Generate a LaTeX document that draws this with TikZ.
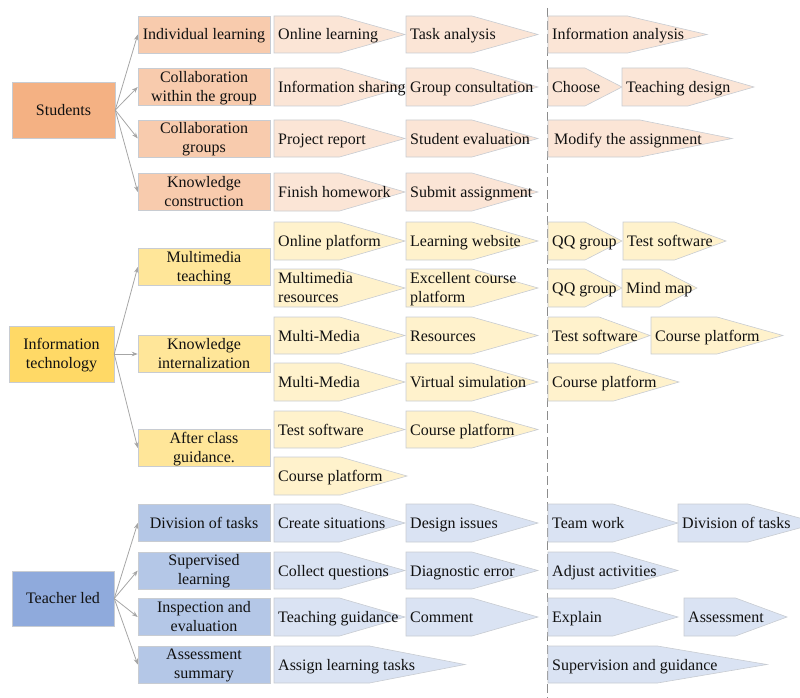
\documentclass[tikz,border=0pt]{standalone}
\usepackage{fontspec}
\setmainfont{Liberation Serif}
\usetikzlibrary{arrows.meta}
\definecolor{stuM}{HTML}{F4B183}
\definecolor{stuL}{HTML}{F8CBAD}
\definecolor{stuP}{HTML}{FBE5D6}
\definecolor{itM}{HTML}{FFD966}
\definecolor{itL}{HTML}{FFE699}
\definecolor{itP}{HTML}{FFF2CC}
\definecolor{teM}{HTML}{8FAADC}
\definecolor{teL}{HTML}{B4C7E7}
\definecolor{teP}{HTML}{DAE3F3}
\definecolor{edge}{HTML}{C8CCD2}
\definecolor{txt}{HTML}{111111}
\tikzset{
  basefont/.style={font=\fontsize{16}{19}\selectfont, text=txt},
  mainbox/.style={basefont, draw=edge, line width=0.5pt, align=center, inner sep=0pt},
  lvtwo/.style={basefont, draw=edge, line width=0.5pt, align=center, inner sep=0pt,
                minimum width=132pt, minimum height=37pt},
  oneline/.style={text height=13pt, text depth=2.5pt},
  pentshape/.style={draw=edge, line width=0.6pt, line join=miter},
  pentext/.style={basefont, inner xsep=4pt, inner ysep=0pt, align=left},
  conn/.style={draw=black!35, line width=0.8pt, -{Stealth[length=6pt,width=4.5pt]}},
  divider/.style={draw=black!45, line width=1pt, dash pattern=on 9pt off 4pt}
}
\newcommand\twoline[2]{\rule{0pt}{13.3pt}#1\\#2\rule[-3.3pt]{0pt}{3.3pt}}
\newcommand\pentpath[6]{%
  \path[pentshape, fill=#1] (#3,#4) -- ++({#6/2},0) -- ({#3+#6},{(#4+#5)/2}) -- ({#3+#6/2},#5) -- (#3,#5) -- cycle;
}
% single-line pentagon
\newcommand\pent[7]{%
  \pentpath{#1}{#2}{#3}{#4}{#5}{#6}%
  \node[pentext, anchor=base west] (#2) at (#3,{(#4+#5)/2+5.5}) {#7};
}
% two-line pentagon
\newcommand\pentt[8]{%
  \pentpath{#1}{#2}{#3}{#4}{#5}{#6}%
  \node[pentext, anchor=west] (#2) at (#3,{(#4+#5)/2}) {\twoline{#7}{#8}};
}
\begin{document}
\begin{tikzpicture}[x=1pt,y=-1pt]
\useasboundingbox (0,0) rectangle (800,698);
\coordinate (dtop) at (547,8);
\coordinate (dbot) at (547,698);
\draw[divider] (dtop) -- (dbot);

% ---------- Students ----------
\node[mainbox, oneline, fill=stuM, minimum width=103pt, minimum height=56pt] (stu) at (63.5,110) {Students};
\node[lvtwo, oneline, fill=stuL] (sa) at (204,34.5) {Individual learning};
\node[lvtwo, fill=stuL] (sb) at (204,87) {\twoline{Collaboration}{within the group}};
\node[lvtwo, fill=stuL] (sc) at (204,138.5) {\twoline{Collaboration}{groups}};
\node[lvtwo, fill=stuL] (sd) at (204,192) {\twoline{Knowledge}{construction}};
\foreach \t in {sa,sb,sc,sd} \draw[conn] (stu.east) -- (\t.west);

\pent{stuP}{s11}{274}{16}{53}{131}{Online learning}
\pent{stuP}{s12}{406}{16}{53}{132}{Task analysis}
\pent{stuP}{s13}{548}{16}{53}{159}{Information analysis}
\pent{stuP}{s21}{274}{68}{106}{131}{Information sharing}
\pent{stuP}{s22}{406}{68}{106}{132}{Group consultation}
\pent{stuP}{s23}{548}{68}{106}{74}{Choose}
\pent{stuP}{s24}{622}{68}{106}{132}{Teaching design}
\pent{stuP}{s31}{274}{120}{157}{131}{Project report}
\pent{stuP}{s32}{406}{120}{157}{132}{Student evaluation}
\pent{stuP}{s33}{548}{120}{157}{184}{\hspace{2pt}Modify the assignment}
\pent{stuP}{s41}{274}{173}{211}{131}{Finish homework}
\pent{stuP}{s42}{406}{173}{211}{132}{Submit assignment}

% ---------- Information technology ----------
\node[mainbox, fill=itM, minimum width=105pt, minimum height=56pt] (it) at (61.5,354) {\twoline{Information}{technology}};
\node[lvtwo, fill=itL] (ia) at (204,267) {\twoline{Multimedia}{teaching}};
\node[lvtwo, fill=itL] (ib) at (204,354) {\twoline{Knowledge}{internalization}};
\node[lvtwo, fill=itL] (ic) at (204,448) {\twoline{After class}{guidance.}};
\foreach \t in {ia,ib,ic} \draw[conn] (it.east) -- (\t.west);

\pent{itP}{i11}{274}{222}{260}{131}{Online platform}
\pent{itP}{i12}{406}{222}{260}{132}{Learning website}
\pent{itP}{i13}{548}{222}{260}{74}{QQ group}
\pent{itP}{i14}{623}{222}{260}{103}{Test software}
\pentt{itP}{i21}{274}{269}{307}{131}{Multimedia}{resources}
\pentt{itP}{i22}{406}{269}{307}{132}{Excellent course}{platform}
\pent{itP}{i23}{548}{269}{307}{74}{QQ group}
\pent{itP}{i24}{622}{269}{307}{75}{Mind map}
\pent{itP}{i31}{274}{317}{354}{131}{Multi-Media}
\pent{itP}{i32}{406}{317}{354}{132}{Resources}
\pent{itP}{i33}{548}{317}{354}{102}{Test software}
\pent{itP}{i34}{651}{317}{354}{132}{Course platform}
\pent{itP}{i41}{274}{363}{401}{131}{Multi-Media}
\pent{itP}{i42}{406}{363}{401}{132}{Virtual simulation}
\pent{itP}{i43}{548}{363}{401}{131}{Course platform}
\pent{itP}{i51}{274}{411}{448}{131}{Test software}
\pent{itP}{i52}{406}{411}{448}{132}{Course platform}
\pent{itP}{i61}{274}{457}{495}{133}{Course platform}

% ---------- Teacher led ----------
\node[mainbox, oneline, fill=teM, minimum width=102pt, minimum height=55pt] (te) at (63,598.5) {Teacher led};
\node[lvtwo, oneline, fill=teL] (ta) at (204,523) {Division of tasks};
\node[lvtwo, fill=teL] (tb) at (204,570.5) {\twoline{Supervised}{learning}};
\node[lvtwo, fill=teL] (tc) at (204,617) {\twoline{Inspection and}{evaluation}};
\node[lvtwo, fill=teL] (td) at (204,664.5) {\twoline{Assessment}{summary}};
\foreach \t in {ta,tb,tc,td} \draw[conn] (te.east) -- (\t.west);

\pent{teP}{t11}{274}{504}{542}{131}{Create situations}
\pent{teP}{t12}{406}{504}{542}{132}{Design issues}
\pent{teP}{t13}{548}{504}{542}{130}{Team work}
\pent{teP}{t14}{678}{504}{542}{140}{Division of tasks}
\pent{teP}{t21}{274}{552}{589}{131}{Collect questions}
\pent{teP}{t22}{406}{552}{589}{132}{Diagnostic error}
\pent{teP}{t23}{548}{552}{589}{130}{Adjust activities}
\pent{teP}{t31}{274}{598}{636}{131}{Teaching guidance}
\pent{teP}{t32}{406}{598}{636}{132}{Comment}
\pent{teP}{t33}{548}{598}{636}{130}{Explain}
\pent{teP}{t34}{684}{598}{636}{103}{Assessment}
\pent{teP}{t41}{274}{646}{683}{191}{Assign learning tasks}
\pent{teP}{t42}{548}{646}{683}{219}{Supervision and guidance}
\end{tikzpicture}
\end{document}
